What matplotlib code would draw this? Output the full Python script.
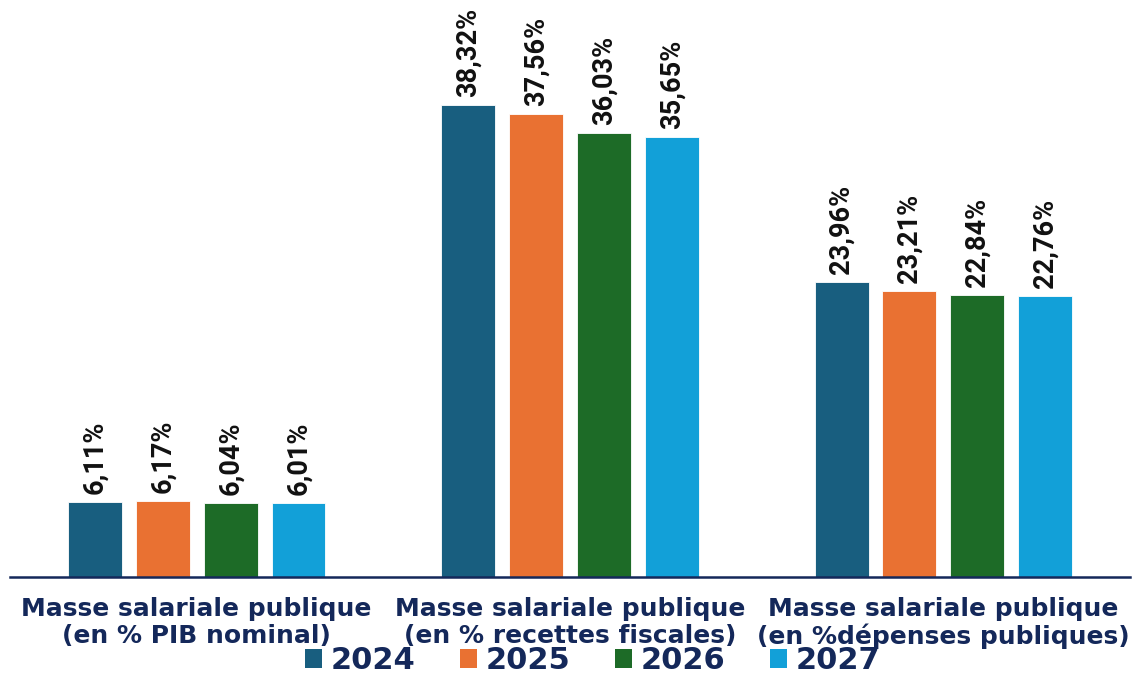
import numpy as np
import matplotlib.pyplot as plt
from matplotlib.patches import Patch

categories = ["Masse salariale publique\n(en % PIB nominal)",
              "Masse salariale publique\n(en % recettes fiscales)",
              "Masse salariale publique\n(en %dépenses publiques)"]
years = ["2024", "2025", "2026", "2027"]
v2024 = [6.11, 38.32, 23.96]
v2025 = [6.17, 37.56, 23.21]
v2026 = [6.04, 36.03, 22.84]
v2027 = [6.01, 35.65, 22.76]
colors = ["#185e7f", "#e97132", "#1d6b27", "#12a0d8"]

navy = "#14285a"

fig = plt.figure(figsize=(11.38, 6.74), dpi=100)
ax = fig.add_axes([0.0088, 0.1439, 0.9842, 0.8561])

x = np.arange(len(categories))
w = 0.1444
step = 0.1818
series = [v2024, v2025, v2026, v2027]
for i, vals in enumerate(series):
    pos = x + (i - 1.5) * step
    bars = ax.bar(pos, vals, width=w, color=colors[i], edgecolor='white', linewidth=0.6)
    for b, v in zip(bars, vals):
        ax.text(b.get_x() + b.get_width() / 2, v + 0.65, f"{v:.2f}%".replace('.', ','),
                rotation=90, ha='center', va='bottom', fontsize=19.5, fontweight='bold',
                family=['Roboto', 'DejaVu Sans'], color='#111111')

ax.set_xlim(-0.5, 2.5)
ax.set_ylim(0, 46.8)
for s in ['top', 'right', 'left']:
    ax.spines[s].set_visible(False)
ax.spines['bottom'].set_color(navy)
ax.spines['bottom'].set_linewidth(1.8)
ax.set_yticks([])
ax.set_xticks([])

for xi, c in zip(x, categories):
    ax.text(xi, -3.7, c, ha='center', va='center', fontsize=18, fontweight='bold',
            color=navy, linespacing=1.13)

handles = [Patch(facecolor=c) for c in colors]
fig.legend(handles, years, loc='center', bbox_to_anchor=(0.521, 0.02), ncol=4,
           frameon=False, prop={'size': 22, 'weight': 'bold'},
           labelcolor=navy, handlelength=0.55, handleheight=0.6, handletextpad=0.3,
           columnspacing=1.45, borderpad=0)

fig.savefig("out.png", dpi=100)
